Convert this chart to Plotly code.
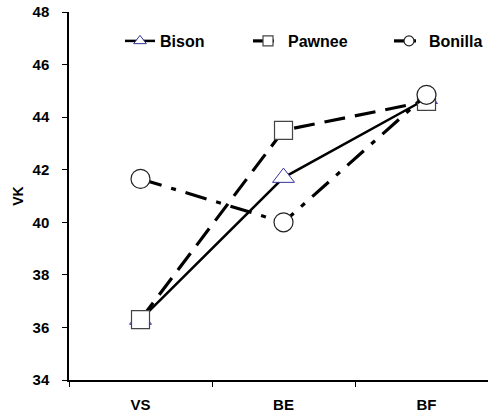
import plotly.graph_objects as go

categories = ["VS", "BE", "BF"]
bison = [36.3, 41.7, 44.7]
pawnee = [36.3, 43.5, 44.6]
bonilla = [41.65, 40.0, 44.85]
y_ticks = [34, 36, 38, 40, 42, 44, 46, 48]

W, H = 488, 416
ml, mr, mt, mb = 69, 0, 12, 36
pw = W - ml - mr
ph = H - mt - mb

FAM = "Liberation Sans, Arial, sans-serif"
font = dict(family=FAM, size=15, color="#000")

styles = {
    "Bison": (bison, dict(color="#000", width=2.5),
              dict(symbol="triangle-up", color="white", line=dict(color="#33339a", width=1)), 19, 11),
    "Pawnee": (pawnee, dict(color="#000", width=3.2, dash="21px,10px"),
               dict(symbol="square", color="white", line=dict(color="#444", width=1.2)), 18, 10),
    "Bonilla": (bonilla, dict(color="#000", width=3.2, dash="22px,10px,5px,10px"),
                dict(symbol="circle", color="white", line=dict(color="#222", width=1.2)), 19, 10),
}

fig = go.Figure()
legends = ["legend", "legend2", "legend3"]
for i, (name, (vals, line, marker, size, lsize)) in enumerate(styles.items()):
    fig.add_trace(go.Scatter(x=categories, y=vals, mode="lines+markers", line=line,
                             marker=dict(marker, size=size), showlegend=False))
for i, (name, (vals, line, marker, size, lsize)) in enumerate(styles.items()):
    fig.add_trace(go.Scatter(x=[None], y=[None], mode="lines+markers", name=f"<b>{name}</b>",
                             line=line, marker=dict(marker, size=lsize), legend=legends[i],
                             showlegend=True))

def leg(px, anchor="left"):
    return dict(x=(px - ml) / pw, y=(H - 41 - mb) / ph, xanchor=anchor, yanchor="middle",
                orientation="h", bgcolor="rgba(0,0,0,0)",
                font=dict(family=FAM, size=16, color="#000"))

fig.update_layout(
    width=W, height=H, margin=dict(l=ml, r=mr, t=mt, b=mb),
    paper_bgcolor="white", plot_bgcolor="white",
    font=font,
    showlegend=True,
    legend=leg(120), legend2=leg(248), legend3=leg(488, "right"),
    xaxis=dict(type="category", range=[-0.5, 2.43], tickson="boundaries", automargin=False,
               ticks="outside", ticklen=5, tickcolor="#000", showline=True, linecolor="#000",
               linewidth=1.5, showgrid=False, zeroline=False, ticklabelstandoff=10,
               tickfont=font, tickprefix="<b>", ticksuffix="</b>"),
    yaxis=dict(range=[34, 48], tickvals=y_ticks, ticktext=[f"<b>{v}</b>" for v in y_ticks],
               automargin=False, ticklabelstandoff=10,
               ticks="outside", ticklen=5, tickcolor="#000", showline=True, linecolor="#000",
               linewidth=1.5, showgrid=False, zeroline=False, tickfont=font,
               title=dict(text="<b>VK</b>", standoff=6, font=dict(family=FAM, size=14, color="#000"))),
)
fig.write_html("out.html", config={"displayModeBar": False},
               post_script="document.body.style.margin='0';document.body.style.overflow='hidden';")
